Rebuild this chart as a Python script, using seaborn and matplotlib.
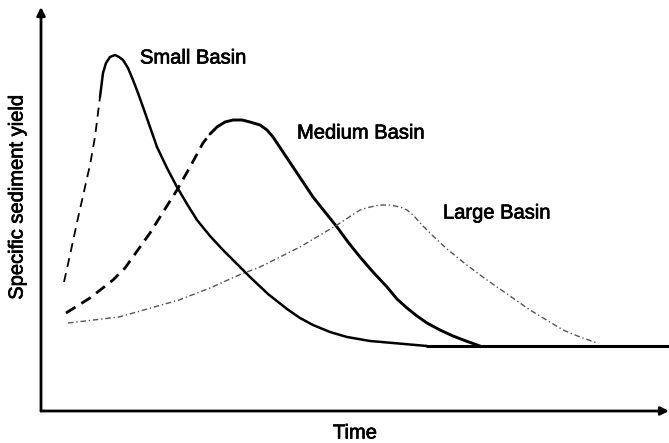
import matplotlib
matplotlib.use("Agg")
import matplotlib.pyplot as plt
import matplotlib.patheffects as pe
import seaborn as sns
import pandas as pd

# values (time / yield in arbitrary units)
small_time = [23, 29, 37, 44, 49, 54, 57, 59, 62, 65, 69, 74, 78, 82, 87, 92, 97, 102,
              109, 116, 126, 136, 146, 156, 169, 182, 196, 209, 227, 246, 259, 272,
              289, 306, 329, 352, 386]
small_yield = [129, 156, 193, 224, 246, 274, 298, 314, 338, 348, 354, 356, 354, 351,
               343, 331, 318, 304, 284, 264, 243, 224, 207, 191, 175, 161, 147, 134,
               117, 102, 93, 86, 79, 74, 70, 68, 65]
small_split = 7

medium_time = [25, 49, 72, 84, 99, 109, 119, 136, 149, 162, 169, 176, 184, 192, 201,
               209, 219, 226, 232, 242, 252, 262, 272, 284, 296, 307, 319, 332, 346,
               356, 366, 376, 386, 399, 412, 425, 439]
medium_yield = [98, 113, 131, 143, 164, 178, 194, 221, 244, 268, 277, 284, 289, 291,
                291, 289, 286, 281, 274, 259, 244, 229, 214, 199, 184, 169, 154, 139,
                124, 112, 103, 95, 88, 81, 75, 70, 65]
medium_split = 10

large_time = [27, 78, 138, 169, 198, 219, 259, 296, 319, 329, 339, 349, 359, 366, 372,
              382, 392, 406, 422, 439, 456, 489, 522, 539, 556]
large_yield = [88, 94, 111, 123, 136, 144, 164, 186, 201, 204, 206, 206, 204, 201, 196,
               185, 175, 162, 149, 136, 124, 101, 81, 74, 68]

base_time = [386, 628]
base_yield = [65, 65]

labels = ["Small Basin", "Medium Basin", "Large Basin"]
label_pos = [(99, 353), (256, 278), (402, 198)]

sns.set_theme(style="white")
plt.rcParams["font.family"] = ["Liberation Sans", "DejaVu Sans"]

fig = plt.figure(figsize=(6.69, 4.43), dpi=100)
ax = fig.add_axes([41 / 669, 32 / 443, 628 / 669, 404 / 443])


def seg(t, y, **kw):
    df = pd.DataFrame({"t": t, "y": y})
    sns.lineplot(data=df, x="t", y="y", ax=ax, sort=False, estimator=None, **kw)


# rising limbs dashed, falling limbs solid
seg(small_time[:small_split + 1], small_yield[:small_split + 1],
    color="black", lw=1.3, linestyle=(0, (5, 3.5)))
seg(small_time[small_split:], small_yield[small_split:], color="black", lw=1.8)

seg(medium_time[:medium_split + 1], medium_yield[:medium_split + 1],
    color="black", lw=2.0, linestyle=(0, (4, 2.5)))
seg(medium_time[medium_split:], medium_yield[medium_split:], color="black", lw=2.1)

seg(large_time, large_yield, color="#555555", lw=1.0, linestyle=(0, (4, 2, 1, 2)))
seg(base_time, base_yield, color="black", lw=2.2)

bold = [pe.withStroke(linewidth=0.5, foreground="black")]
for txt, (tx, ty) in zip(labels, label_pos):
    ax.text(tx, ty, txt, fontsize=14.5, ha="left", va="center", color="black",
            path_effects=bold)

ax.set_xlim(0, 628)
ax.set_ylim(0, 404)
ax.set_xticks([])
ax.set_yticks([])
for s in ["top", "right", "left", "bottom"]:
    ax.spines[s].set_visible(False)

arrow = dict(arrowstyle="-|>", lw=2.0, color="black", mutation_scale=12,
             shrinkA=0, shrinkB=0)
ax.annotate("", xy=(0, 1), xytext=(0, 0), xycoords="axes fraction",
            arrowprops=arrow, annotation_clip=False)
ax.annotate("", xy=(1, 0), xytext=(0, 0), xycoords="axes fraction",
            arrowprops=arrow, annotation_clip=False)

fig.text(355 / 669, 1 - 433 / 443, "Time", fontsize=14.5, ha="center", va="center",
         color="black", path_effects=bold)
fig.text(17 / 669, 1 - 197 / 443, "Specific sediment yield", fontsize=14.5,
         rotation=90, ha="center", va="center", color="black", path_effects=bold)

ax.set_xlabel("")
ax.set_ylabel("")
fig.savefig("out.png", dpi=100)
